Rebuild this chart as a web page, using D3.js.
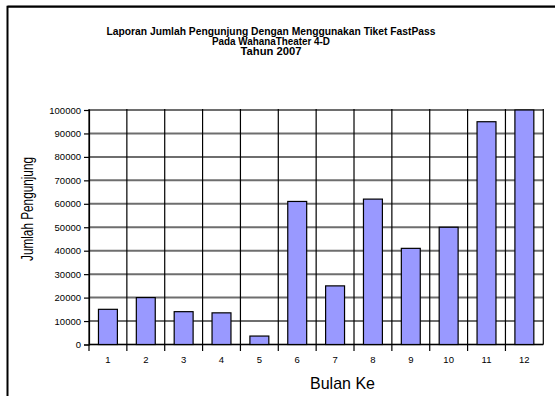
<!DOCTYPE html>
<html>
<head>
<meta charset="utf-8">
<script src="https://cdn.jsdelivr.net/npm/d3@7"></script>
<style>
  html, body { margin: 0; padding: 0; background: #fff; }
  svg { display: block; }
  text { font-family: "Liberation Sans", Arial, sans-serif; fill: #000; }
</style>
</head>
<body>
<svg id="chart" width="555" height="396"></svg>
<script>
// Monthly FastPass visitors, Theater 4-D, 2007
const months = ["1", "2", "3", "4", "5", "6", "7", "8", "9", "10", "11", "12"];
const visitors = [15000, 20000, 14000, 13500, 3600, 61000, 25000, 62000, 41000, 50000, 95000, 100000];
const yTicks = [0, 10000, 20000, 30000, 40000, 50000, 60000, 70000, 80000, 90000, 100000];
const titleLines = [
  "Laporan Jumlah Pengunjung Dengan Menggunakan Tiket FastPass",
  "Pada WahanaTheater 4-D",
  "Tahun 2007"
];
const titleWidths = [329, 118, 61];
const xTitle = "Bulan Ke";
const yTitle = "Jumlah Pengunjung";

const svg = d3.select("#chart");
const plot = { left: 89, right: 543.3, top: 110, bottom: 344.5 };

// outer frame (top and left edges)
svg.append("line").attr("x1", 7.5).attr("x2", 555).attr("y1", 5.5).attr("y2", 5.5)
  .attr("stroke", "#999").attr("stroke-width", 1);
svg.append("path")
  .attr("d", `M7.5,396V6.8H555`)
  .attr("fill", "none").attr("stroke", "#000").attr("stroke-width", 2);

// title
svg.append("g").selectAll("text").data(titleLines).join("text")
  .attr("x", 271)
  .attr("y", (d, i) => 34.5 + i * 10.25)
  .attr("text-anchor", "middle")
  .attr("font-size", 10)
  .attr("font-weight", "bold")
  .attr("textLength", (d, i) => titleWidths[i])
  .attr("lengthAdjust", "spacingAndGlyphs")
  .text(d => d);

const x = d3.scaleBand().domain(months).range([plot.left, plot.right]);
const xBar = d3.scaleBand().domain(months).range([plot.left, plot.right])
  .paddingInner(0.5).paddingOuter(0.25);
const y = d3.scaleLinear().domain([0, 100000]).range([plot.bottom, plot.top]);

// horizontal gridlines
svg.append("g").selectAll("line").data(yTicks).join("line")
  .attr("x1", plot.left).attr("x2", plot.right)
  .attr("y1", d => y(d)).attr("y2", d => y(d))
  .attr("stroke", "#6e6e6e").attr("stroke-width", 2);

// vertical category dividers
const bounds = months.map(m => x(m)).concat([plot.right]);
svg.append("g").selectAll("line").data(bounds).join("line")
  .attr("x1", d => d).attr("x2", d => d)
  .attr("y1", plot.top - 1)
  .attr("y2", (d, i) => i < months.length ? plot.bottom + 6.5 : plot.bottom)
  .attr("stroke", "#000").attr("stroke-width", 1.2);

// bars
svg.append("g").selectAll("rect").data(visitors).join("rect")
  .attr("x", (d, i) => xBar(months[i]))
  .attr("width", xBar.bandwidth())
  .attr("y", d => y(d))
  .attr("height", d => y(0) - y(d))
  .attr("fill", "#9999ff")
  .attr("stroke", "#000").attr("stroke-width", 1.2);

// baseline
svg.append("line").attr("x1", plot.left).attr("x2", plot.right)
  .attr("y1", plot.bottom).attr("y2", plot.bottom)
  .attr("stroke", "#000").attr("stroke-width", 1.2);

// y axis
const yAxis = svg.append("g")
  .attr("transform", `translate(${plot.left},0)`)
  .call(d3.axisLeft(y).tickValues(yTicks).tickFormat(d3.format("d")).tickSize(5).tickPadding(3));
yAxis.select(".domain").attr("stroke", "#000").attr("stroke-width", 1.2);
yAxis.selectAll(".tick line").attr("stroke", "#000").attr("stroke-width", 1.2);
yAxis.selectAll("text").attr("font-size", 9.5).attr("font-family", "Liberation Sans, Arial, sans-serif");

// x axis labels
const xAxis = svg.append("g")
  .attr("transform", `translate(0,${plot.bottom})`)
  .call(d3.axisBottom(x).tickSize(0).tickPadding(11.8));
xAxis.select(".domain").remove();
xAxis.selectAll("text").attr("font-size", 9.5).attr("font-family", "Liberation Sans, Arial, sans-serif");

// axis titles
svg.append("text")
  .attr("x", 342.5).attr("y", 389)
  .attr("text-anchor", "middle")
  .attr("font-size", 17)
  .attr("textLength", 65).attr("lengthAdjust", "spacingAndGlyphs")
  .text(xTitle);

svg.append("text")
  .attr("transform", "translate(32.5,209) rotate(-90)")
  .attr("text-anchor", "middle")
  .attr("font-size", 16.5)
  .attr("textLength", 104).attr("lengthAdjust", "spacingAndGlyphs")
  .text(yTitle);
</script>
</body>
</html>
